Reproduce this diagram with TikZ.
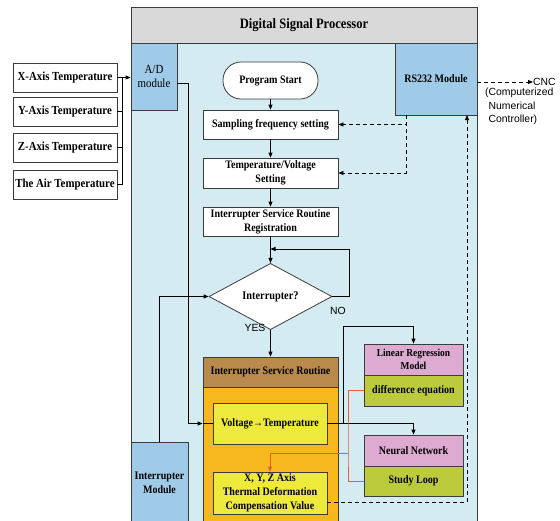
\documentclass[tikz,border=0pt]{standalone}
\usepackage{fontspec}
\setmainfont{Liberation Serif}[FakeStretch=0.88]
\newfontfamily\sansf{Liberation Sans}
\usetikzlibrary{arrows.meta,shapes.geometric,calc}

\definecolor{hdrgray}{HTML}{D9D9D9}
\definecolor{dspbody}{HTML}{D3EBF1}
\definecolor{modblue}{HTML}{9FCBE9}
\definecolor{isrbrown}{HTML}{B98A4C}
\definecolor{isrorange}{HTML}{F6B81C}
\definecolor{boxyellow}{HTML}{EEEA3C}
\definecolor{boxpink}{HTML}{DDAAD2}
\definecolor{boxgreen}{HTML}{BCCB3C}
\definecolor{linkred}{HTML}{EA5A3C}
\definecolor{edge}{HTML}{3C3C3C}

\begin{document}
\begin{tikzpicture}[x=1pt,y=-1pt,
  >={Triangle[length=5pt,width=4pt]},
  box/.style={draw=edge,line width=0.8pt,inner sep=0pt,align=center,
    font=\fontsize{11.4}{14}\selectfont\bfseries},
  flow/.style={box,fill=white,minimum width=135pt},
  sensor/.style={box,fill=white,minimum width=104pt,minimum height=29pt,
    font=\fontsize{12.3}{13}\selectfont\bfseries},
  module/.style={box,fill=modblue},
  alg/.style={box,minimum width=99pt},
  conn/.style={draw=black,line width=0.8pt},
  dashconn/.style={conn,dash pattern=on 4pt off 3pt},
  redconn/.style={draw=linkred,line width=0.8pt},
  lbl/.style={inner sep=0pt,font=\fontsize{10.4}{13.5}\selectfont\sansf}
]
\useasboundingbox (0,0) rectangle (560,520);
\begin{scope}
\clip (0,0) rectangle (560,520);

% processor frame
\node[box,fill=dspbody,minimum width=346pt,minimum height=497pt] (dsp) at (304,291.5) {};
\node[box,fill=hdrgray,minimum width=346pt,minimum height=36pt,
  font=\fontsize{14.3}{15}\selectfont\bfseries] (hdr) at (304,25) {Digital Signal Processor};

% modules
\node[module,minimum width=46pt,minimum height=67pt,
  font=\fontsize{12.4}{14.5}\selectfont] (ad) at (154,76.5) {A/D\\module};
\node[module,minimum width=82pt,minimum height=72pt] (rs) at (436,79) {RS232 Module};
\node[module,minimum width=57pt,minimum height=82pt] (im) at (159.5,483) {Interrupter\\Module};

% sensors
\node[sensor] (xs) at (65,77.5) {X-Axis Temperature};
\node[sensor] (ys) at (65,111.5) {Y-Axis Temperature};
\node[sensor] (zs) at (65,147.5) {Z-Axis Temperature};
\node[sensor] (as) at (65,184.5) {The Air Temperature};

% main flow
\node[box,fill=white,minimum width=95pt,minimum height=37pt,rounded corners=18pt] (start) at (270.5,80.5) {Program Start};
\node[flow,minimum height=29pt] (samp) at (270.5,124.5) {Sampling frequency setting};
\node[flow,minimum height=30pt] (tv) at (270.5,173) {Temperature/Voltage\\Setting};
\node[flow,minimum height=29pt] (reg) at (270.5,221.5) {Interrupter Service Routine\\Registration};
\node[box,fill=white,shape=diamond,minimum width=123pt,minimum height=47pt,
  font=\fontsize{11.7}{12}\selectfont\bfseries] (dia) at (270.5,296.5) {Interrupter?};

% interrupt service routine
\node[box,fill=isrorange,minimum width=135pt,minimum height=153pt] (isrb) at (270.5,463.5) {};
\node[box,fill=isrbrown,minimum width=135pt,minimum height=30pt] (isrh) at (270.5,372) {Interrupter Service Routine};
\node[box,fill=boxyellow,minimum width=114pt,minimum height=41pt] (vt) at (270,423.5) {Voltage→Temperature};
\node[box,fill=boxyellow,minimum width=114pt,minimum height=42pt] (xyz) at (270,493) {X, Y, Z Axis\\Thermal Deformation\\Compensation Value};

% compensation models
\node[alg,fill=boxpink,minimum height=31pt,font=\fontsize{10.7}{13}\selectfont\bfseries] (lrm) at (413.5,359.5) {Linear Regression\\Model};
\node[alg,fill=boxgreen,minimum height=31pt] (deq) at (413.5,390.5) {difference equation};
\node[alg,fill=boxpink,minimum height=31pt] (nn) at (413.5,450.5) {Neural Network};
\node[alg,fill=boxgreen,minimum height=30pt] (sl) at (413.5,481) {Study Loop};

% sensor bus into the A/D module
\coordinate (sbus) at (122,77.5);
\draw[conn,->] (xs.east) -- (xs.east -| ad.west);
\draw[conn] (as.east) -| (sbus);
\draw[conn] (ys.east) -- (ys.east -| sbus);
\draw[conn] (zs.east) -- (zs.east -| sbus);

% flow arrows
\draw[conn,->] (start) -- (samp);
\draw[conn,->] (samp) -- (tv);
\draw[conn,->] (tv) -- (reg);
\draw[conn,->] (reg) -- (dia);
\coordinate (loop) at (349,249);
\draw[conn,->] (dia.east) -| (loop) -- (loop -| reg.south);
\draw[conn,->] (dia.south) -- (isrh.north);
\draw[conn,->] (im.north) |- (dia.west);
\node[lbl] (yes) at (255,328) {YES};
\node[lbl] (no) at (338,311) {NO};

% A/D samples into the conversion step
\coordinate (adout) at (177,83);
\coordinate (adbus) at (188,83);
\draw[conn,->] (adout) -- (adbus) |- (isrb.west |- vt.west);
\draw[conn] (isrb.west |- vt.west) -- (vt.west);

% converted temperatures to both models
\coordinate (brk) at (343,423.5);
\coordinate (brtop) at (343,326);
\draw[conn,->] (vt.east) -| (nn.north);
\draw[conn,->] (brk) -- (brtop) -| (lrm.north);

% model outputs to compensation value
\coordinate (rbus) at (348,453);
\draw[redconn] (deq.west) -| (rbus) |- (sl.west);
\draw[redconn,->] (rbus) -| (xyz.north);

% serial link
\coordinate (rsin) at (467,115);
\coordinate (rsout) at (406,115);
\draw[dashconn,->] ($(xyz.east)+(0,9)$) -| (rsin);
\draw[dashconn,->] (rsout) |- (samp.east);
\draw[dashconn,->] (rsout) |- (tv.east);
\node[lbl,anchor=west] (cnc) at (533,82) {CNC};
\draw[dashconn,->] (rs.east |- cnc.west) -- (cnc.west);
\node[lbl,anchor=north west,align=left] (cncname) at (485,88)
  {(Computerized\\\phantom{(}Numerical\\\phantom{(}Controller)};
\end{scope}
\end{tikzpicture}
\end{document}
